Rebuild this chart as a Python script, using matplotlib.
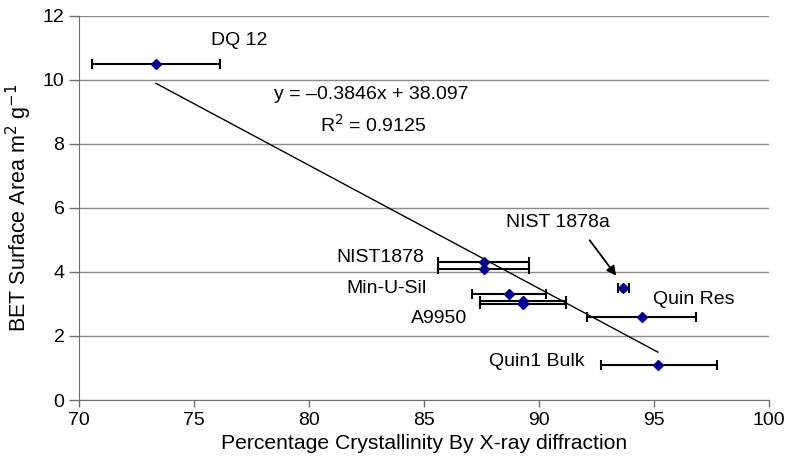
import numpy as np
import matplotlib
matplotlib.use('Agg')
import matplotlib.pyplot as plt

plt.rcParams['font.family'] = ['Liberation Sans', 'DejaVu Sans']

# data
names = ['DQ 12', 'NIST1878', 'NIST1878', 'Min-U-Sil', 'A9950', 'A9950',
         'NIST 1878a', 'Quin Res', 'Quin1 Bulk']
cryst = [73.35, 87.6, 87.6, 88.7, 89.3, 89.3, 93.65, 94.48, 95.17]
bet = [10.5, 4.3, 4.1, 3.3, 3.1, 3.0, 3.5, 2.6, 1.1]
err_lo = [70.55, 85.62, 85.62, 87.1, 87.43, 87.43, 93.45, 92.09, 92.70]
err_hi = [76.13, 89.57, 89.57, 90.29, 91.16, 91.16, 93.93, 96.83, 97.74]

slope = -0.3846
intercept = 38.097
r2 = 0.9125

cryst = np.array(cryst)
bet = np.array(bet)
xerr = [cryst - np.array(err_lo), np.array(err_hi) - cryst]

fig = plt.figure(figsize=(7.87, 4.69), dpi=100)
ax = fig.add_axes([0.1004, 0.1471, 0.8767, 0.8194])

ax.errorbar(cryst, bet, xerr=xerr, fmt='none', ecolor='black',
            elinewidth=1.5, capsize=3.5, capthick=1.5, zorder=3)
ax.plot(cryst, bet, 'D', color='#00008b', markersize=5.5, zorder=4)

# linear trend
xt = np.array([cryst.min(), cryst.max()])
ax.plot(xt, slope * xt + intercept, color='black', lw=1, zorder=2)

fs = 14
ax.text(82.7, 9.53, 'y = \u20130.3846x + 38.097', ha='center', va='center', fontsize=fs)
ax.text(82.8, 8.59, 'R$^2$ = {}'.format(r2), ha='center', va='center', fontsize=fs)

ax.text(75.75, 11.23, 'DQ 12', ha='left', va='center', fontsize=fs)
ax.text(85.0, 4.45, 'NIST1878', ha='right', va='center', fontsize=fs)
ax.text(85.1, 3.49, 'Min-U-Sil', ha='right', va='center', fontsize=fs)
ax.text(86.9, 2.56, 'A9950', ha='right', va='center', fontsize=fs)
ax.text(94.94, 3.15, 'Quin Res', ha='left', va='center', fontsize=fs)
ax.text(92.0, 1.2, 'Quin1 Bulk', ha='right', va='center', fontsize=fs)
ax.text(93.09, 5.54, 'NIST 1878a', ha='right', va='center', fontsize=fs)
ax.annotate('', xy=(93.43, 3.81), xytext=(92.13, 5.06),
            arrowprops=dict(arrowstyle='-|>', color='black', lw=1.3,
                            mutation_scale=14))

ax.set_xlim(70, 100)
ax.set_ylim(0, 12)
ax.set_xticks(np.arange(70, 101, 5))
ax.set_yticks(np.arange(0, 13, 2))
ax.yaxis.grid(True, color='#8c8c8c', lw=1)
ax.set_axisbelow(True)
for s in ['top', 'right']:
    ax.spines[s].set_visible(False)
for s in ['left', 'bottom']:
    ax.spines[s].set_color('#6e6e6e')
ax.tick_params(axis='both', labelsize=fs, color='#6e6e6e', width=1)
ax.tick_params(axis='y', length=7)
ax.tick_params(axis='x', length=5)

ax.set_xlabel('Percentage Crystallinity By X-ray diffraction', fontsize=15.2, labelpad=4)
ax.set_ylabel('BET Surface Area m$^2$ g$^{-1}$', fontsize=15.5, labelpad=6)

plt.savefig('out.png', dpi=100)
